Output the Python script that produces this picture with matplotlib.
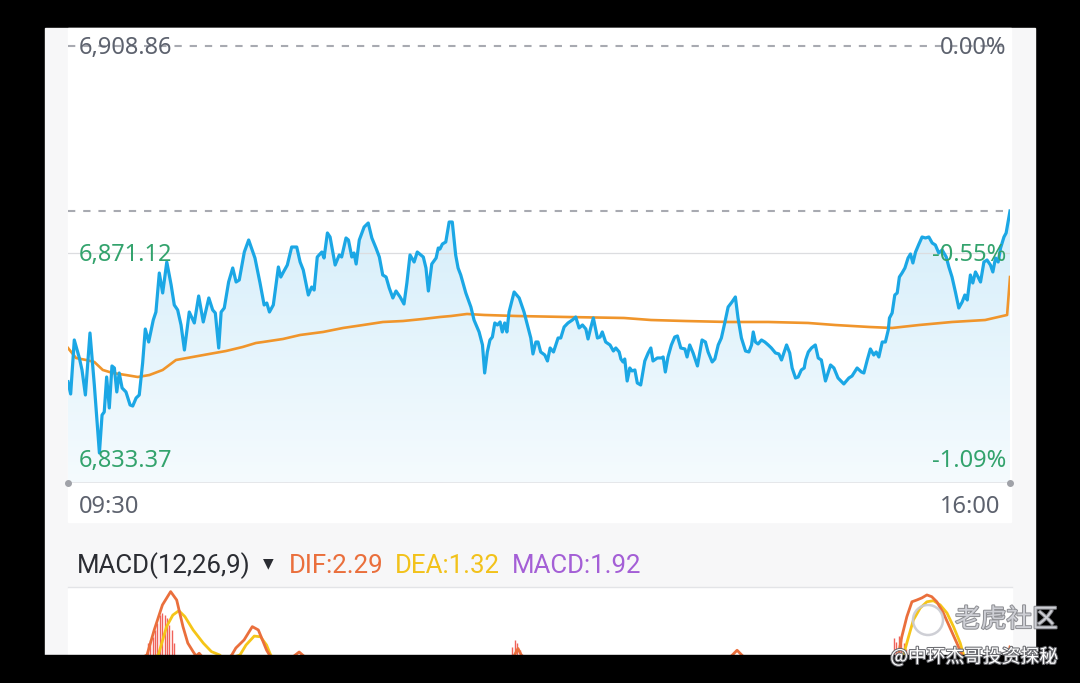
import numpy as np
import matplotlib.pyplot as plt
import matplotlib.patheffects as pe
from matplotlib.patches import Rectangle, Polygon, Circle
from matplotlib.colors import LinearSegmentedColormap

# intraday index, minutes after 09:30
price_min = [0, 1.1, 2.6, 4.7, 5.8, 7.2, 9.1, 10.9, 13.0, 14.1,
             15.0, 16.0, 17.1, 18.2, 19.2, 20.2, 21.2, 22.4, 24.0, 25.7,
             26.8, 28.2, 29.5, 30.9, 32.0, 33.4, 35.3, 36.4, 37.8, 39.2,
             40.9, 42.7, 44.0, 45.4, 46.8, 48.2, 50.2, 52.3, 54.1, 56.0,
             58.3, 59.9, 61.0, 62.4, 63.4, 64.7, 66.5, 68.2, 69.6, 70.9,
             73.0, 74.8,
             77.4, 79.5, 81.2, 82.3, 83.4, 85.0, 87.1, 88.1, 89.2, 90.8,
             92.6, 94.7, 96.1, 97.4, 99.5, 100.9, 101.9, 103.2, 105.1, 106.0,
             107.4, 108.5, 110.6, 112.3, 113.3, 115.1, 116.1, 117.5, 118.4, 119.3,
             120.6, 122.6, 124.3, 125.8, 127.5, 128.9, 130.3, 131.7, 133.0, 134.5,
             135.8, 137.5, 139.1, 140.3, 141.6, 143.3, 144.6, 147.1, 148.2, 149.2,
             150.6, 152.4, 153.3, 154.0, 155.0, 156.4, 157.8, 159.1, 160.5, 161.5,
             162.6, 164.7, 166.8, 168.1, 170.2, 171.6, 172.5, 173.6, 174.7, 175.7,
             176.7, 177.8, 178.9, 179.8, 180.8, 181.7, 182.6, 184.7, 186.8, 188.8,
             190.2, 191.6, 192.5, 193.7, 194.6, 195.7, 197.4, 198.5, 199.6, 201.0,
             202.9, 204.0, 205.4, 207.0, 208.8, 210.2, 211.6, 213.0, 214.4, 215.3,
             216.4, 217.5, 219.2, 220.3, 221.2, 222.6, 224.4, 225.8, 226.8, 228.2,
             228.9, 229.8, 230.5, 231.5, 232.6, 233.5, 234.7, 235.7, 237.1, 238.8,
             240.2, 241.3, 242.2, 244.0, 245.7, 246.4, 247.3, 248.4, 249.8, 251.2,
             252.3, 253.7, 255.4, 256.3, 257.4, 258.8, 260.6, 262.5, 263.9, 265.0,
             266.7, 267.8, 269.2, 270.5, 271.9, 273.3, 274.9, 276.3, 277.4, 278.8,
             280.5, 281.9, 283.0, 283.7, 284.6, 285.7, 287.1, 288.5, 289.9, 291.2,
             292.9, 294.3, 295.4, 297.5, 298.8, 299.8, 301.2, 302.3, 303.6, 304.8,
             305.4, 306.5,
             307.8, 309.4, 310.6, 311.9, 313.6, 315.7, 317.1, 318.8, 321.2, 323.3,
             324.6, 326.7, 328.5, 329.5, 330.9, 332.2, 333.6, 334.6, 335.7, 337.1,
             338.4, 339.6, 340.1, 341.2, 342.3, 343.3, 344.2, 345.3, 346.5, 347.8,
             348.8, 349.8, 350.9, 352.3, 353.6, 355.0, 356.4, 357.8, 359.1, 360.5,
             361.9, 363.6, 364.7, 366.0, 367.4, 368.8, 370.2, 371.3, 372.3, 373.6,
             374.6, 375.7, 376.8, 377.8, 379.2, 380.5, 381.9, 382.9, 384.0, 385.1,
             386.1, 387.5, 388.4, 390.0]
price_val = [6847.65, 6845.41, 6855.26, 6851.98, 6849.79, 6845.23, 6856.53, 6847.05, 6834.65, 6841.58,
             6842.13, 6848.51, 6842.86, 6850.52, 6850.15, 6845.78, 6849.24, 6846.51, 6845.78, 6843.41,
             6843.22, 6844.68, 6845.23, 6851.06, 6857.26, 6854.89, 6858.90, 6860.36, 6867.47, 6863.83,
             6869.48, 6865.29, 6861.64, 6860.73, 6857.99, 6853.43, 6860.36, 6858.36, 6863.28, 6858.54,
             6862.92, 6860.73, 6860.18, 6853.80, 6860.36, 6861.09, 6865.83, 6868.39, 6865.83, 6866.20,
             6871.30, 6873.49,
             6870.21, 6865.65, 6861.64, 6862.00, 6860.36, 6861.64, 6868.57, 6866.74, 6867.66, 6868.93,
             6872.21, 6872.21, 6869.48, 6868.02, 6863.46, 6864.92, 6864.37, 6870.39, 6871.30, 6870.21,
             6874.77, 6874.04, 6868.93, 6870.76, 6870.39, 6873.86, 6873.49, 6870.39, 6871.12, 6869.11,
             6873.49, 6875.86, 6876.59, 6873.86, 6872.03, 6870.39, 6867.11, 6866.74, 6864.74, 6862.92,
             6864.19, 6863.10, 6861.82, 6865.65, 6870.76, 6869.48, 6871.30, 6870.39, 6868.39, 6864.19,
             6869.11, 6870.21, 6872.03, 6871.85, 6872.76, 6873.13, 6876.77, 6876.77, 6870.76, 6868.39,
             6867.11, 6863.83, 6861.27, 6858.90, 6856.72, 6854.35, 6849.24, 6853.07, 6855.26, 6855.80,
             6858.36, 6857.99, 6858.54, 6856.72, 6858.36, 6856.72, 6860.36, 6864.01, 6862.92, 6860.36,
             6857.99, 6855.62, 6852.71, 6854.89, 6854.89, 6853.07, 6852.52, 6851.43, 6853.80, 6853.07,
             6855.62, 6855.62, 6857.63, 6858.36, 6858.90, 6859.45, 6857.45, 6857.99, 6857.26, 6855.44,
             6857.45, 6859.27, 6855.62, 6855.80, 6856.72, 6854.89, 6854.35, 6853.25, 6853.80, 6853.07,
             6851.79, 6851.25, 6851.79, 6847.78, 6850.15, 6849.61, 6849.79, 6847.42, 6847.05, 6851.43,
             6852.89, 6853.80, 6851.43, 6851.98, 6851.98, 6852.16, 6849.42, 6852.16, 6854.35, 6855.80,
             6855.99, 6853.80, 6853.62, 6852.16, 6854.35, 6852.89, 6850.52, 6855.26, 6854.89, 6853.07,
             6851.25, 6851.79, 6854.35, 6855.62, 6858.36, 6861.27, 6862.19, 6863.10, 6859.27, 6855.62,
             6853.25, 6853.07, 6854.35, 6856.72, 6854.89, 6854.53, 6855.26, 6854.89, 6854.35, 6853.80,
             6852.89, 6852.71, 6851.61, 6854.35, 6852.89, 6850.15, 6848.33, 6848.51, 6849.79, 6850.15,
             6851.61, 6853.07,
             6853.80, 6854.35, 6851.98, 6851.61, 6847.78, 6850.70, 6850.15, 6848.33, 6847.24, 6848.33,
             6848.69, 6850.15, 6849.42, 6849.24, 6851.61, 6853.62, 6852.52, 6853.07, 6852.16, 6854.89,
             6854.89, 6857.08, 6859.27, 6860.18, 6863.46, 6863.83, 6866.74, 6867.47, 6868.39, 6870.21,
             6870.94, 6869.30, 6871.30, 6872.76, 6874.04, 6873.86, 6874.04, 6872.94, 6872.58, 6871.12,
             6871.67, 6870.39, 6868.57, 6866.74, 6864.01, 6861.09, 6862.19, 6863.46, 6862.55, 6867.11,
             6865.65, 6867.66, 6866.74, 6865.83, 6869.48, 6869.84, 6868.93, 6867.66, 6870.21, 6869.48,
             6872.03, 6874.04, 6874.77, 6878.78]

# average price line
avg_min = [0, 3.3, 7.5, 10.9, 14.4, 18.5, 24.0, 28.9, 33.7, 39.2,
           44.7, 51.6, 58.5, 65.4, 72.3, 77.8, 80.7, 89.0, 96.1, 105.6,
           113.9, 122.2, 130.4, 138.7, 147.0, 154.0, 158.6, 165.2, 172.3, 185.9,
           206.6, 230.2, 241.4, 255.5, 273.3, 289.9, 306.4, 317.6, 331.7, 341.2,
           352.4, 366.0, 379.7, 388.8, 390.0]
avg_val = [6853.80, 6851.98, 6851.61, 6851.25, 6849.79, 6849.24, 6848.87, 6848.51, 6848.87, 6849.79,
           6851.61, 6852.16, 6852.71, 6853.25, 6853.98, 6854.71, 6854.89, 6855.44, 6856.17, 6856.72,
           6857.45, 6857.99, 6858.54, 6858.72, 6859.09, 6859.45, 6859.63, 6860.00, 6859.82, 6859.63,
           6859.45, 6859.27, 6858.90, 6858.72, 6858.54, 6858.54, 6858.36, 6857.99, 6857.63, 6857.45,
           6857.99, 6858.54, 6858.90, 6859.82, 6866.74]

# MACD(12,26,9)
dif_min = [0, 20, 32.7, 35.7, 39.1, 42.5, 45.0, 47.6, 49.6, 51.8,
           53.0, 54.3, 56.7, 63, 67.8, 69.5, 72.9, 76.3, 78.8, 80.5,
           82.2, 83.4, 85.7, 92, 95.7, 99, 110, 140, 180, 184,
           186.3, 188.5, 195, 230, 272, 277, 282, 320, 342.5, 343.8,
           345.2, 347.3, 349.4, 351.4, 353.5, 355.6, 357.6, 359.7, 362.4, 365.2,
           368.0, 370.1, 371.8, 380, 385.9, 389.2, 390]
dif_val = [0.6, 0.9, 1.83, 3.26, 4.69, 5.45, 4.97, 3.45, 2.51, 2.02,
           1.77, 1.93, 1.54, 1.2, 1.83, 2.23, 2.69, 3.45, 3.26, 2.69,
           2.11, 1.83, 1.26, 1.6, 2.0, 1.6, 1.0, 0.2, 1.2, 1.6,
           2.2, 1.6, 1.0, 0.3, 1.4, 2.1, 1.4, 0.2, 1.43, 1.83,
           2.87, 4.02, 4.87, 4.97, 5.09, 5.26, 5.16, 4.87, 4.23, 3.37,
           2.51, 1.83, 1.26, 0.9, 1.09, 1.83, 2.29]
dea_min = [0, 25, 37.4, 40.8, 43.4, 45.9, 48.4, 51.8, 56.0, 59.4,
           62.8, 65, 71.2, 73.7, 77.1, 79.7, 82.2, 83.9, 87, 120,
           200, 280, 330, 345.9, 348.0, 350.0, 352.8, 355.6, 358.3, 361.1,
           363.9, 366.6, 369.4, 370.8, 373.5, 382, 390]
dea_val = [0.5, 0.8, 1.83, 3.45, 4.11, 4.36, 4.02, 3.26, 2.51, 2.02,
           1.83, 1.54, 1.83, 2.40, 2.91, 2.87, 2.40, 1.83, 1.26, 1.2,
           0.9, 0.8, 0.6, 1.83, 2.87, 3.83, 4.51, 4.87, 4.93, 4.69,
           4.23, 3.45, 2.51, 1.83, 1.26, 1.1, 1.32]
hist_min = [33, 34, 35, 36, 37, 38, 39, 40, 41, 42, 43, 44,
            184, 185, 186, 187, 188,
            342, 343, 344, 345, 346, 347, 348, 349]
hist_val = [2.51, 2.69, 2.86, 3.26, 3.66, 4.11, 4.23, 4.11, 3.94, 3.54, 3.26, 2.51,
            2.3, 2.7, 2.5, 2.1, 1.9,
            2.8, 2.6, 2.9, 2.7, 2.5, 2.2, 2.0, 1.9]

prev_close = 6908.86
last_price = 6878.78
mid_level = 6871.12
low_level = 6833.37

W, H = 1080, 683
GRAY = '#5d626e'
GREEN = '#33a36d'
NUM_FONT = ['Noto Sans', 'DejaVu Sans']
FS = 17


def rect(x0, y0, x1, y1):
    # pixel box -> figure fraction
    return [x0 / W, 1 - y1 / H, (x1 - x0) / W, (y1 - y0) / H]


fig = plt.figure(figsize=(W / 100, H / 100), dpi=100, facecolor='black')

# card background
fig.add_artist(Rectangle((45 / W, 1 - 655 / H), 990 / W, 627 / H,
                         transform=fig.transFigure, color='#f7f7f8', zorder=0))
fig.add_artist(Rectangle((68 / W, 1 - 522 / H), 943 / W, 494 / H,
                         transform=fig.transFigure, color='white', zorder=0))
fig.add_artist(Rectangle((68 / W, 1 - 655 / H), 944 / W, 67 / H,
                         transform=fig.transFigure, color='white', zorder=0))

# ---- price panel ----
ax = fig.add_axes(rect(68, 40, 1010, 483))
ax.patch.set_alpha(0)
ylo, yhi = 6829.18, 6909.96

verts = np.column_stack([np.r_[price_min[0], price_min, price_min[-1]],
                         np.r_[ylo, price_val, ylo]])
poly = Polygon(verts, closed=True, facecolor='none', edgecolor='none')
ax.add_patch(poly)
cmap = LinearSegmentedColormap.from_list('fill', ['#f5fbfe', '#d6eefa'])
grad = np.linspace(0, 1, 256).reshape(-1, 1)
im = ax.imshow(grad, extent=[0, 390, ylo, max(price_val)], origin='lower',
               cmap=cmap, aspect='auto', zorder=1)
im.set_clip_path(poly)

ax.axhline(prev_close, color='#a8aab1', lw=1.5, dashes=(3.5, 3.8), zorder=2)
ax.axhline(last_price, color='#a8aab1', lw=1.5, dashes=(3.5, 3.8), zorder=2)
ax.axhline(mid_level, color='#dcdde0', lw=0.9, zorder=2)
ax.axhline(ylo, color='#e2e3e6', lw=1.2, zorder=2)
ax.plot([0, 390], [ylo, ylo], 'o', color='#a0a2a8', ms=4, clip_on=False, zorder=3)

ax.plot(avg_min, avg_val, color='#f0952b', lw=1.9, zorder=4)
ax.plot(price_min, price_val, color='#1ba7e5', lw=2.3, zorder=5)

ax.set_xlim(0, 390)
ax.set_ylim(ylo, yhi)
ax.axis('off')

yt = ax.get_yaxis_transform()
lx, rx = 11 / 942, 938 / 942
ax.text(lx, prev_close - 0.35, '6,908.86', transform=yt, ha='left', va='center',
        color=GRAY, fontsize=FS, family=NUM_FONT, zorder=6)
ax.text(rx, prev_close - 0.35, '0.00%', transform=yt, ha='right', va='center',
        color=GRAY, fontsize=FS, family=NUM_FONT, zorder=6)
ax.text(lx, mid_level - 0.35, '6,871.12', transform=yt, ha='left', va='center',
        color=GREEN, fontsize=FS, family=NUM_FONT, zorder=6)
ax.text(rx, mid_level - 0.35, '-0.55%', transform=yt, ha='right', va='center',
        color=GREEN, fontsize=FS, family=NUM_FONT, zorder=6)
ax.text(lx, low_level - 0.2, '6,833.37', transform=yt, ha='left', va='center',
        color=GREEN, fontsize=FS, family=NUM_FONT, zorder=6)
ax.text(rx, low_level - 0.2, '-1.09%', transform=yt, ha='right', va='center',
        color=GREEN, fontsize=FS, family=NUM_FONT, zorder=6)
ax.text(lx, -24 / 443, '09:30', transform=ax.transAxes, ha='left', va='center',
        color=GRAY, fontsize=FS, family=NUM_FONT)
ax.text(932 / 942, -24 / 443, '16:00', transform=ax.transAxes, ha='right', va='center',
        color=GRAY, fontsize=FS, family=NUM_FONT)

# ---- MACD header ----
hy = 1 - 566 / H
hfont = ['Roboto', 'DejaVu Sans']
fig.text(77 / W, hy, 'MACD(12,26,9)', color='#2b2d33', fontsize=18.6, family=hfont,
         ha='left', va='center')
fig.text(268 / W, hy + 0.004, '▼', color='#2b2d33', fontsize=10, family=['DejaVu Sans'],
         ha='center', va='center')
fig.text(289 / W, hy, 'DIF:2.29', color='#ea6f3c', fontsize=18.6, family=hfont,
         ha='left', va='center')
fig.text(395 / W, hy, 'DEA:1.32', color='#f2c21b', fontsize=18.6, family=hfont,
         ha='left', va='center')
fig.text(512 / W, hy, 'MACD:1.92', color='#a45fd6', fontsize=18.6, family=hfont,
         ha='left', va='center')
fig.add_artist(plt.Line2D([68 / W, 1012 / W], [1 - 587 / H, 1 - 587 / H],
                          transform=fig.transFigure, color='#e3e4e7', lw=1))

# ---- MACD panel ----
mx = fig.add_axes(rect(68, 588, 1010, 683))
mx.patch.set_alpha(0)
mx.vlines(hist_min, 0, hist_val, color='#f0625a', lw=1.0, zorder=2)
mx.plot(dea_min, dea_val, color='#f5c518', lw=2.0, zorder=3)
mx.plot(dif_min, dif_val, color='#ea6f3c', lw=2.0, zorder=4)
mx.set_xlim(0, 390)
mx.set_ylim(0.229, 5.657)
mx.axis('off')

# bottom black band and watermark
fig.add_artist(Rectangle((0, 0), 1, 28 / H, transform=fig.transFigure,
                         color='black', zorder=20))
fig.add_artist(Circle((9.28, 6.83 - 6.20), 0.15, transform=fig.dpi_scale_trans,
                      fill=False, ec='#c9cad1', lw=1.8, alpha=0.9, zorder=21))
shadow = [pe.withStroke(linewidth=1.5, foreground='#8a8b90')]
fig.text(1058 / W, 1 - 620 / H, '老虎社区', color='#d2d3d9', alpha=0.95, fontsize=18.5,
         family=['Noto Sans CJK SC', 'DejaVu Sans'], ha='right', va='center', zorder=21,
         path_effects=shadow)
fig.text(1058 / W, 1 - 657 / H, '@中环杰哥投资探秘', color='white', fontsize=13.5,
         family=['Noto Sans CJK SC', 'DejaVu Sans'], ha='right', va='center', zorder=22,
         path_effects=[pe.withStroke(linewidth=1.5, foreground='#6a6b70')])

fig.savefig('out.png', dpi=100, facecolor='black')
